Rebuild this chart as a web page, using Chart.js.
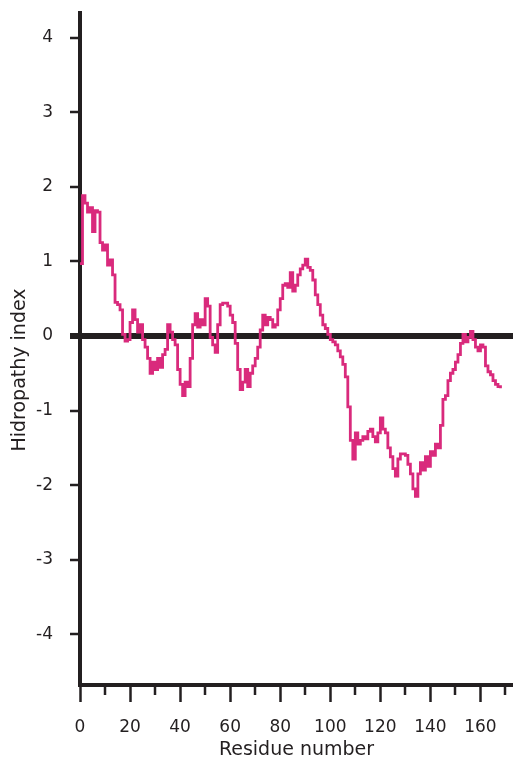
<!DOCTYPE html>
<html>
<head>
<meta charset="utf-8">
<script src="https://cdn.jsdelivr.net/npm/chart.js@4"></script>
<style>
  html, body { margin: 0; padding: 0; background: #fff; }
  #chart { display: block; }
</style>
</head>
<body>
<canvas id="chart" width="513" height="761"></canvas>
<script>
// hydropathy value for each residue, starting at residue 0
const hydropathy = [
  0.97, 1.88, 1.78, 1.66, 1.72, 1.40, 1.68, 1.66, 1.25, 1.15,
  1.22, 0.95, 1.02, 0.82, 0.45, 0.42, 0.35, 0.02, -0.07, -0.05,
  0.18, 0.35, 0.22, 0.05, 0.15, -0.05, -0.15, -0.30, -0.50, -0.35,
  -0.45, -0.30, -0.42, -0.25, -0.18, 0.15, 0.05, -0.05, -0.12, -0.45,
  -0.65, -0.80, -0.62, -0.68, -0.30, 0.15, 0.30, 0.12, 0.22, 0.15,
  0.50, 0.40, -0.02, -0.12, -0.22, 0.15, 0.42, 0.44, 0.44, 0.40,
  0.28, 0.18, -0.10, -0.45, -0.72, -0.62, -0.45, -0.68, -0.50, -0.40,
  -0.30, -0.15, 0.08, 0.28, 0.15, 0.25, 0.22, 0.12, 0.15, 0.35,
  0.50, 0.68, 0.70, 0.65, 0.85, 0.60, 0.68, 0.82, 0.90, 0.95,
  1.03, 0.92, 0.88, 0.75, 0.55, 0.42, 0.28, 0.15, 0.10, 0.02,
  -0.05, -0.08, -0.12, -0.20, -0.28, -0.38, -0.55, -0.95, -1.40, -1.65,
  -1.30, -1.45, -1.40, -1.35, -1.38, -1.28, -1.25, -1.35, -1.42, -1.30,
  -1.10, -1.25, -1.30, -1.50, -1.62, -1.78, -1.88, -1.65, -1.58, -1.58,
  -1.60, -1.72, -1.85, -2.05, -2.15, -1.85, -1.70, -1.80, -1.62, -1.75,
  -1.55, -1.60, -1.45, -1.50, -1.20, -0.85, -0.80, -0.60, -0.50, -0.45,
  -0.35, -0.25, -0.10, 0.02, -0.08, -0.02, 0.06, -0.05, -0.15, -0.20,
  -0.12, -0.15, -0.40, -0.48, -0.52, -0.60, -0.65, -0.68, -0.70
];

const X_MIN = 0, X_MAX = 173;
const Y_MIN = -4.68, Y_MAX = 4.33;
const X_MAJOR_STEP = 20;
const X_MINOR_TICKS = [10, 30, 50, 70, 90, 110, 130, 150, 170];
const Y_STEP = 1;

const X_TITLE = 'Residue number';
const Y_TITLE = 'Hidropathy index';

const INK = '#231f20';
const LINE_COLOR = '#d92a7c';
const FONT = '"DejaVu Sans", sans-serif';

const $ = id => document.getElementById(id);

// short ticks between the labelled ones on the x axis
const minorTicks = {
  id: 'minorTicks',
  afterDraw(chart) {
    const { ctx, scales: { x }, chartArea } = chart;
    ctx.save();
    ctx.strokeStyle = INK;
    ctx.lineWidth = 2.5;
    X_MINOR_TICKS.forEach(v => {
      const px = Math.round(x.getPixelForValue(v));
      ctx.beginPath();
      ctx.moveTo(px, chartArea.bottom);
      ctx.lineTo(px, chartArea.bottom + 10);
      ctx.stroke();
    });
    ctx.restore();
  }
};

// y title sits a little below the middle of the axis in the original
const yTitle = {
  id: 'yTitle',
  afterDraw(chart) {
    const { ctx, chartArea } = chart;
    ctx.save();
    ctx.translate(20, (chartArea.top + chartArea.bottom) / 2 + 21);
    ctx.rotate(-Math.PI / 2);
    ctx.font = `19px ${FONT}`;
    ctx.fillStyle = INK;
    ctx.textAlign = 'center';
    ctx.textBaseline = 'middle';
    ctx.fillText(Y_TITLE, 0, 0);
    ctx.restore();
  }
};

new Chart($('chart'), {
  type: 'line',
  data: {
    datasets: [{
      data: hydropathy.map((v, i) => ({ x: X_MIN + i, y: v })),
      borderColor: LINE_COLOR,
      borderWidth: 2.8,
      stepped: true,
      pointRadius: 0,
      fill: false,
    }]
  },
  options: {
    responsive: false,
    animation: false,
    layout: { padding: { top: 13, right: 0, left: 0, bottom: 0 } },
    plugins: { legend: { display: false }, tooltip: { enabled: false } },
    scales: {
      x: {
        type: 'linear',
        min: X_MIN, max: X_MAX,
        afterFit: s => { s.height = 76; s.paddingLeft = 0; s.paddingRight = 0; },
        border: { display: true, color: INK, width: 4 },
        grid: {
          drawOnChartArea: false, drawTicks: true,
          tickLength: 17, tickColor: INK, tickWidth: 2.5,
        },
        ticks: {
          stepSize: X_MAJOR_STEP, includeBounds: false,
          color: INK, padding: 15, maxRotation: 0,
          font: { family: FONT, size: 17 },
        },
        title: {
          display: true, text: X_TITLE, color: INK, padding: { top: 0, bottom: 0 },
          font: { family: FONT, size: 19 },
        },
      },
      y: {
        min: Y_MIN, max: Y_MAX,
        afterFit: s => { s.width = 80; s.paddingTop = 0; s.paddingBottom = 0; },
        border: { display: true, color: INK, width: 4 },
        grid: {
          drawOnChartArea: true, drawTicks: true, tickLength: 10,
          color: INK,
          lineWidth: c => (c.tick && c.tick.value === 0 ? 6 : 0),
          tickColor: INK,
          tickWidth: c => (c.tick && c.tick.value === 0 ? 6 : 2.5),
        },
        ticks: {
          stepSize: Y_STEP, includeBounds: false,
          color: INK, padding: 17,
          font: { family: FONT, size: 17 },
        },
      },
    },
  },
  plugins: [minorTicks, yTitle],
});
</script>
</body>
</html>
